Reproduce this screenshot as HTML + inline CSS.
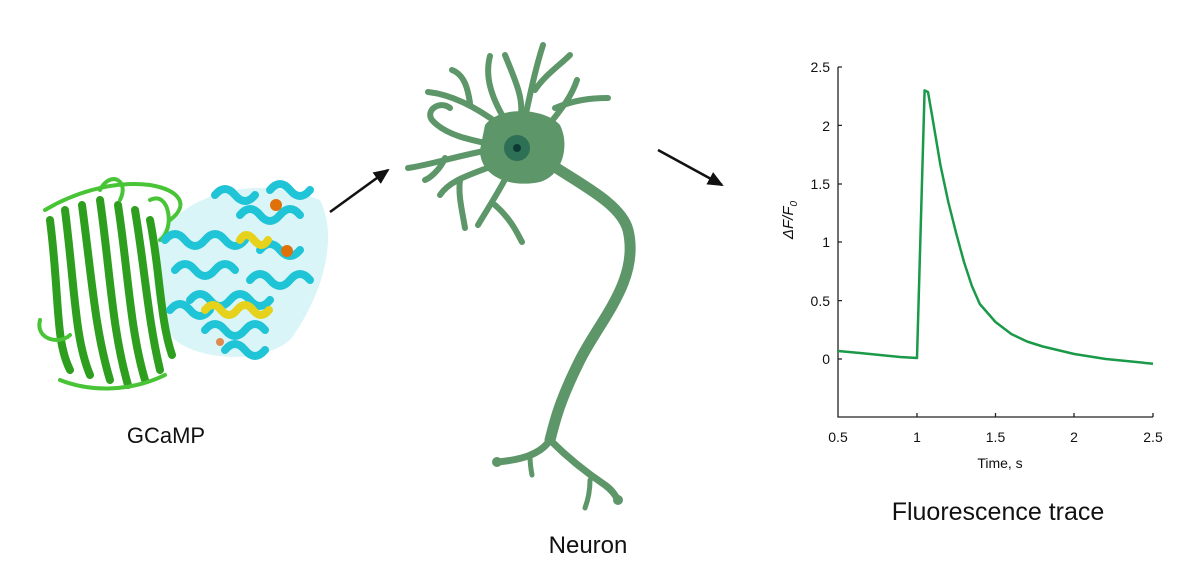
<!DOCTYPE html>
<html><head><meta charset="utf-8"><style>
html,body{margin:0;padding:0;background:#fff;}
svg{display:block}
text{font-family:"Liberation Sans",Arial,sans-serif;}
</style></head><body>
<svg width="1200" height="574" viewBox="0 0 1200 574" xmlns="http://www.w3.org/2000/svg">
<defs>
<marker id="ah" markerWidth="16" markerHeight="14" refX="14" refY="7" orient="auto" markerUnits="userSpaceOnUse">
<path d="M0,0 L16,7 L0,14 z" fill="#111"/></marker>
</defs>
<!-- Protein -->
<path d="M160,235 C190,190 260,175 320,200 C340,240 320,300 290,340 C260,365 200,360 175,340 C150,310 150,260 160,235 Z" fill="#bfeef2" opacity="0.6"/>
<g fill="none" stroke-linecap="round">
 <g stroke="#2e9e1e" stroke-width="8">
  <path d="M50,220 C60,300 55,340 70,370"/>
  <path d="M65,210 C75,290 75,340 90,375"/>
  <path d="M82,205 C92,280 95,330 110,380"/>
  <path d="M100,200 C110,270 112,330 128,385"/>
  <path d="M118,205 C128,270 130,330 145,380"/>
  <path d="M135,210 C145,270 148,320 160,370"/>
  <path d="M150,220 C160,270 160,320 172,355"/>
 </g>
 <g stroke="#48c436" stroke-width="4">
  <path d="M45,210 C70,195 110,180 150,185 C180,190 190,205 170,220"/>
  <path d="M40,320 C35,340 60,345 70,335"/>
  <path d="M60,380 C90,392 130,392 165,375"/>
  <path d="M100,190 C110,170 130,180 120,200"/>
  <path d="M150,200 C170,190 175,230 160,240"/>
 </g>
 <g stroke="#1fc4d6" stroke-width="8">
  <path d="M165,240 q10,-12 20,0 t20,0 t20,0 t20,0"/>
  <path d="M175,270 q10,-12 20,0 t20,0 t20,0"/>
  <path d="M190,300 q10,-12 20,0 t20,0 t20,0 t20,0"/>
  <path d="M205,330 q10,-12 20,0 t20,0 t20,0"/>
  <path d="M240,215 q10,-12 20,0 t20,0 t20,0"/>
  <path d="M260,250 q10,-12 20,0 t20,0"/>
  <path d="M250,280 q10,-12 20,0 t20,0 t20,0"/>
  <path d="M215,195 q10,-12 20,0 t20,0"/>
  <path d="M270,190 q10,-12 20,0 t20,0"/>
  <path d="M170,310 q10,-12 20,0 t20,0"/>
  <path d="M225,350 q10,-12 20,0 t20,0"/>
 </g>
 <g stroke="#e6d21a" stroke-width="8">
  <path d="M205,310 q8,-10 16,0 t16,0 t16,0 t16,0"/>
  <path d="M240,240 q6,-10 14,0 t14,0"/>
 </g>
</g>
<circle cx="276" cy="205" r="6" fill="#e0700a"/>
<circle cx="287" cy="251" r="6" fill="#e0700a"/>
<circle cx="220" cy="342" r="4" fill="#e08a50"/>
<text x="166" y="443" font-size="22" text-anchor="middle" fill="#111">GCaMP</text>

<!-- arrows -->
<line x1="330" y1="212" x2="388" y2="170" stroke="#111" stroke-width="2.5" marker-end="url(#ah)"/>
<line x1="658" y1="150" x2="722" y2="185" stroke="#111" stroke-width="2.5" marker-end="url(#ah)"/>

<!-- Neuron -->
<g stroke="#5d9668" fill="none" stroke-linecap="round">
 <g stroke-width="6">
  <path d="M500,125 C480,110 455,95 428,92"/>
  <path d="M470,103 C468,90 465,75 452,70"/>
  <path d="M505,120 C490,95 485,75 490,56"/>
  <path d="M520,120 C525,100 515,80 505,55"/>
  <path d="M525,118 C530,95 535,70 543,45"/>
  <path d="M535,90 C545,75 560,65 570,55"/>
  <path d="M545,130 C560,110 570,100 577,80"/>
  <path d="M555,108 C575,100 590,98 608,98"/>
  <path d="M495,145 C470,140 445,135 432,120 C425,110 440,100 450,108"/>
  <path d="M490,150 C460,155 430,165 408,168"/>
  <path d="M445,158 C440,170 430,178 425,180"/>
  <path d="M495,165 C470,175 450,180 440,195"/>
  <path d="M460,180 C458,195 462,210 465,228"/>
  <path d="M510,170 C500,190 490,205 478,225"/>
  <path d="M495,205 C512,220 518,235 522,242"/>
 </g>
 <path d="M530,150 C570,180 620,200 628,230 C640,280 600,320 580,360 C560,400 555,420 550,440" stroke-width="11"/>
 <path d="M550,440 C540,455 520,460 497,462" stroke-width="7"/>
 <path d="M550,440 C570,460 590,475 605,485 C612,490 615,495 618,500" stroke-width="7"/>
 <path d="M530,455 C530,463 531,470 532,475" stroke-width="5"/>
 <path d="M590,480 C590,490 588,500 585,508" stroke-width="5"/>
</g>
<circle cx="497" cy="462" r="5" fill="#5d9668"/>
<circle cx="618" cy="500" r="5" fill="#5d9668"/>
<path d="M485,125 C500,105 545,108 560,125 C570,145 563,175 540,182 C512,188 480,178 480,150 Z" fill="#5d9668"/>
<circle cx="517" cy="148" r="13" fill="#2e7055"/>
<circle cx="517" cy="148" r="4" fill="#0e3a36"/>
<text x="588" y="553" font-size="24" text-anchor="middle" fill="#111">Neuron</text>

<!-- Chart -->
<g stroke="#222" stroke-width="1.3" fill="none">
 <path d="M838,67 V417 H1153"/>
 <path d="M838,67 h4 M838,125.4 h4 M838,184 h4 M838,242 h4 M838,300.6 h4 M838,359 h4"/>
 <path d="M917,417 v-4 M995.5,417 v-4 M1074,417 v-4 M1153,417 v-4"/>
</g>
<g font-size="14" fill="#111" text-anchor="end">
 <text x="830" y="72">2.5</text><text x="830" y="131">2</text><text x="830" y="189">1.5</text>
 <text x="830" y="247">1</text><text x="830" y="306">0.5</text><text x="830" y="364">0</text>
</g>
<g font-size="14" fill="#111" text-anchor="middle">
 <text x="838" y="442">0.5</text><text x="917" y="442">1</text><text x="995.5" y="442">1.5</text>
 <text x="1074" y="442">2</text><text x="1153" y="442">2.5</text>
 <text x="1000" y="468">Time, s</text>
</g>
<text transform="translate(793,220) rotate(-90)" font-size="15" font-style="italic" fill="#111" text-anchor="middle">ΔF/F<tspan font-size="10" dy="4">0</tspan></text>
<path d="M838,351 L860,353 L880,355 L900,357 L917,358 L924.6,90.4 L928,92 L932.5,118 L940.4,165 L948.3,202 L956.1,233 L964,262 L971.9,286 L979.8,304 L995.5,322 L1011.3,334 L1027,341.5 L1042.8,346.5 L1074.3,354 L1105.8,359 L1153,363.7" fill="none" stroke="#1a9a48" stroke-width="2.5" stroke-linejoin="round"/>
<text x="998" y="520" font-size="25" text-anchor="middle" fill="#111">Fluorescence trace</text>
</svg>
</body></html>
